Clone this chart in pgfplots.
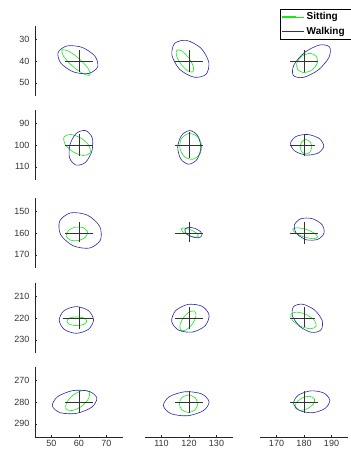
\documentclass[border=0pt]{standalone}
\usepackage{fontspec}
\setmainfont{Liberation Sans}
\usepackage{pgfplots}
\pgfplotsset{compat=1.18}

\definecolor{sitgreen}{RGB}{20,235,20}
\definecolor{walkblue}{RGB}{40,40,170}

\pgfplotsset{
  cell/.style={
    scale only axis, width=88pt, height=70pt, anchor=south west,
    axis x line*=bottom, axis y line*=left,
    axis line style={-, black!85, line width=0.6pt},
    y dir=reverse, tick align=inside, major tick length=2pt,
    tick style={black!85, line width=0.5pt},
    /pgf/number format/assume math mode=true,
    ticklabel style={font=\fontsize{9}{10}\selectfont, text=black!80},
    yticklabel style={xshift=-2pt},
  },
  sit/.style={sitgreen, line width=0.6pt, smooth cycle, mark=none},
  walk/.style={walkblue, line width=0.6pt, smooth cycle, mark=none},
  cross/.style={black!80, line width=0.6pt, mark=none, forget plot},
}

\begin{document}
\begin{tikzpicture}
\path[use as bounding box] (0pt,0pt) rectangle (350pt,454pt);

% ---------------- row 1 ----------------
\begin{axis}[cell, at={(35pt,358pt)}, hide x axis,
  xmin=44, xmax=76, ymin=24, ymax=56, ytick={30,40,50}]
\addplot[sit] coordinates {(64.0,46.4) (61.6,45.9) (57.7,42.4) (54.4,37.9) (53.8,35.0) (56.2,35.5) (60.1,39.0) (63.4,43.5)};
\addplot[walk] coordinates {(66.8,42.7) (63.5,45.7) (58.0,45.0) (53.4,41.0) (52.4,36.1) (55.7,33.1) (61.2,33.8) (65.8,37.8)};
\addplot[cross] coordinates {(55,40) (65,40)};
\addplot[cross] coordinates {(60,35) (60,45)};
\end{axis}

\begin{axis}[cell, at={(145pt,358pt)}, hide x axis, hide y axis,
  xmin=104, xmax=136, ymin=24, ymax=56]
\addplot[sit] coordinates {(121.4,45.0) (119.5,44.5) (117.0,41.3) (115.4,37.4) (115.6,35.0) (117.5,35.5) (120.0,38.7) (121.6,42.6)};
\addplot[walk] coordinates {(126.2,46.1) (121.8,47.4) (116.6,43.8) (113.8,37.4) (114.8,31.9) (119.2,30.6) (124.4,34.2) (127.2,40.6)};
\addplot[cross] coordinates {(115,40) (125,40)};
\addplot[cross] coordinates {(120,35) (120,45)};
\end{axis}

\begin{axis}[cell, at={(260pt,358pt)}, hide x axis, hide y axis,
  xmin=164, xmax=196, ymin=24, ymax=56,
  legend style={at={(0.222,1.247)}, anchor=north west, draw=black,
    line width=0.8pt, fill=white, inner xsep=2pt, inner ysep=1.5pt,
    row sep=2pt, font=\bfseries\fontsize{10}{12}\selectfont},
  legend cell align=left,
  legend image code/.code={\draw[#1, line width=1pt] (0pt,0pt) -- (14pt,0pt);
    \path (0pt,0pt) -- (22pt,0pt);}]
\addplot[sit] coordinates {(184.5,37.9) (184.8,41.0) (182.9,44.1) (179.9,45.3) (177.7,43.9) (177.4,40.8) (179.3,37.7) (182.3,36.5)};
\addlegendentry{\makebox[46pt][l]{Sitting}}
\addplot[walk] coordinates {(189.3,33.6) (189.1,38.3) (185.2,44.1) (179.8,47.5) (176.1,46.6) (176.3,41.9) (180.2,36.1) (185.6,32.7)};
\addlegendentry{\makebox[46pt][l]{Walking}}
\addplot[cross] coordinates {(175,40) (185,40)};
\addplot[cross] coordinates {(180,35) (180,45)};
\end{axis}

% ---------------- row 2 ----------------
\begin{axis}[cell, at={(35pt,274pt)}, hide x axis,
  xmin=44, xmax=76, ymin=84, ymax=116, ytick={90,100,110}]
\addplot[sit] coordinates {(64.0,103.7) (61.6,104.8) (57.8,103.1) (54.9,99.6) (54.6,96.3) (57.0,95.2) (60.8,96.9) (63.7,100.4)};
\addplot[walk] coordinates {(59.0,109.2) (56.6,106.0) (56.7,99.9) (59.0,94.7) (62.4,93.4) (64.8,96.7) (64.7,102.7) (62.4,107.9)};
\addplot[cross] coordinates {(55,100) (65,100)};
\addplot[cross] coordinates {(60,95) (60,105)};
\end{axis}

\begin{axis}[cell, at={(145pt,274pt)}, hide x axis, hide y axis,
  xmin=104, xmax=136, ymin=84, ymax=116]
\addplot[sit] coordinates {(121.4,106.5) (118.4,105.4) (116.7,101.5) (117.2,97.1) (119.8,94.8) (122.8,95.9) (124.5,99.7) (124.0,104.1)};
\addplot[walk] coordinates {(119.9,108.8) (117.0,106.4) (115.9,100.9) (117.3,95.6) (120.3,93.4) (123.2,95.8) (124.3,101.3) (122.9,106.6)};
\addplot[cross] coordinates {(115,100) (125,100)};
\addplot[cross] coordinates {(120,94) (120,106)};
\end{axis}

\begin{axis}[cell, at={(260pt,274pt)}, hide x axis, hide y axis,
  xmin=164, xmax=196, ymin=84, ymax=116]
\addplot[sit] coordinates {(180.7,104.1) (179.2,103.2) (178.6,100.8) (179.2,98.5) (180.7,97.5) (182.2,98.5) (182.8,100.8) (182.2,103.2)};
\addplot[walk] coordinates {(187.2,100.6) (185.1,103.7) (180.8,104.6) (176.6,102.7) (175.1,99.2) (177.1,96.1) (181.4,95.2) (185.6,97.1)};
\addplot[cross] coordinates {(175,100) (184,100)};
\addplot[cross] coordinates {(180,95) (180,105)};
\end{axis}

% ---------------- row 3 ----------------
\begin{axis}[cell, at={(35pt,186pt)}, hide x axis,
  xmin=44, xmax=76, ymin=144, ymax=176, ytick={150,160,170}]
\addplot[sit] coordinates {(63.1,159.5) (62.3,162.0) (59.6,163.5) (56.8,163.2) (55.3,161.3) (56.2,158.8) (58.8,157.3) (61.6,157.6)};
\addplot[walk] coordinates {(67.8,163.2) (63.8,166.9) (57.8,165.8) (53.3,160.7) (53.0,154.5) (57.0,150.8) (63.0,151.8) (67.5,156.9)};
\addplot[cross] coordinates {(55,160) (65,160)};
\addplot[cross] coordinates {(60,155) (60,164)};
\end{axis}

\begin{axis}[cell, at={(145pt,186pt)}, hide x axis, hide y axis,
  xmin=104, xmax=136, ymin=144, ymax=176]
\addplot[sit] coordinates {(123.4,161.5) (122.2,161.9) (119.9,161.1) (117.8,159.5) (117.2,158.1) (118.4,157.7) (120.7,158.6) (122.8,160.1)};
\addplot[walk] coordinates {(124.7,161.2) (123.4,162.2) (121.0,161.7) (119.0,160.2) (118.5,158.4) (119.8,157.4) (122.2,157.9) (124.2,159.4)};
\addplot[cross] coordinates {(115,160) (125,160)};
\addplot[cross] coordinates {(120,155) (120,164)};
\end{axis}

\begin{axis}[cell, at={(260pt,186pt)}, hide x axis, hide y axis,
  xmin=164, xmax=196, ymin=144, ymax=176]
\addplot[sit] coordinates {(184.9,161.9) (183.3,162.6) (180.0,161.8) (176.9,160.0) (175.9,158.3) (177.5,157.6) (180.9,158.4) (183.9,160.2)};
\addplot[walk] coordinates {(187.3,160.0) (185.0,162.9) (180.9,163.1) (177.3,160.3) (176.5,156.4) (178.8,153.5) (182.9,153.4) (186.5,156.1)};
\addplot[cross] coordinates {(175,160) (185,160)};
\addplot[cross] coordinates {(180,155) (180,165)};
\end{axis}

% ---------------- row 4 ----------------
\begin{axis}[cell, at={(35pt,101pt)}, hide x axis,
  xmin=44, xmax=76, ymin=204, ymax=236, ytick={210,220,230}]
\addplot[sit] coordinates {(62.8,221.5) (61.8,222.9) (59.2,223.5) (56.6,222.9) (55.6,221.5) (56.6,220.0) (59.2,219.5) (61.8,220.0)};
\addplot[walk] coordinates {(65.3,220.9) (63.4,225.2) (59.0,227.0) (54.6,225.2) (52.8,220.9) (54.6,216.6) (59.0,214.8) (63.4,216.6)};
\addplot[cross] coordinates {(54,220) (65,220)};
\addplot[cross] coordinates {(60,215) (60,225)};
\end{axis}

\begin{axis}[cell, at={(145pt,101pt)}, hide x axis, hide y axis,
  xmin=104, xmax=136, ymin=204, ymax=236]
\addplot[sit] coordinates {(122.1,216.9) (122.5,219.3) (121.2,222.8) (119.0,225.4) (117.1,225.7) (116.7,223.3) (118.0,219.8) (120.2,217.2)};
\addplot[walk] coordinates {(127.3,218.6) (125.9,223.5) (121.4,226.4) (116.3,225.6) (113.7,221.6) (115.1,216.7) (119.6,213.8) (124.7,214.6)};
\addplot[cross] coordinates {(115,220) (125,220)};
\addplot[cross] coordinates {(120,215) (120,225)};
\end{axis}

\begin{axis}[cell, at={(260pt,101pt)}, hide x axis, hide y axis,
  xmin=164, xmax=196, ymin=204, ymax=236]
\addplot[sit] coordinates {(184.4,223.8) (182.4,224.9) (178.8,223.8) (175.8,221.1) (175.2,218.4) (177.3,217.3) (180.8,218.4) (183.8,221.1)};
\addplot[walk] coordinates {(186.2,225.4) (182.9,226.6) (178.6,224.0) (175.8,219.1) (176.2,214.8) (179.5,213.7) (183.8,216.3) (186.6,221.1)};
\addplot[cross] coordinates {(175,220) (184,220)};
\addplot[cross] coordinates {(180,215) (180,224)};
\end{axis}

% ---------------- row 5 ----------------
\begin{axis}[cell, at={(35pt,17pt)},
  xmin=44, xmax=76, ymin=264, ymax=296, xtick={50,60,70}, ytick={270,280,290}]
\addplot[sit] coordinates {(63.7,275.4) (63.5,278.4) (61.0,281.9) (57.6,283.9) (55.3,283.2) (55.5,280.2) (58.0,276.7) (61.4,274.7)};
\addplot[walk] coordinates {(66.5,278.2) (64.6,282.4) (59.1,285.2) (53.2,284.9) (50.3,281.8) (52.2,277.6) (57.7,274.8) (63.6,275.1)};
\addplot[cross] coordinates {(55,280) (65,280)};
\addplot[cross] coordinates {(60,275) (60,285)};
\end{axis}

\begin{axis}[cell, at={(145pt,17pt)}, hide y axis,
  xmin=104, xmax=136, ymin=264, ymax=296, xtick={110,120,130}]
\addplot[sit] coordinates {(123.2,280.8) (122.2,283.6) (119.8,284.8) (117.4,283.6) (116.5,280.8) (117.4,278.0) (119.8,276.8) (122.2,278.0)};
\addplot[walk] coordinates {(127.3,279.9) (125.2,284.0) (119.4,286.3) (113.4,285.3) (110.7,281.7) (112.8,277.6) (118.6,275.3) (124.6,276.3)};
\addplot[cross] coordinates {(115,280) (125,280)};
\addplot[cross] coordinates {(120,275) (120,285)};
\end{axis}

\begin{axis}[cell, at={(260pt,17pt)}, hide y axis,
  xmin=164, xmax=196, ymin=264, ymax=296, xtick={170,180,190}]
\addplot[sit] coordinates {(183.8,278.6) (183.4,280.9) (181.2,283.1) (178.5,283.8) (176.8,282.6) (177.2,280.3) (179.4,278.1) (182.1,277.4)};
\addplot[walk] coordinates {(189.4,279.2) (187.7,282.9) (183.2,284.9) (178.4,283.9) (176.2,280.6) (177.9,276.9) (182.5,274.9) (187.2,275.9)};
\addplot[cross] coordinates {(175,280) (185,280)};
\addplot[cross] coordinates {(180,275) (180,285)};
\end{axis}

\end{tikzpicture}
\end{document}
